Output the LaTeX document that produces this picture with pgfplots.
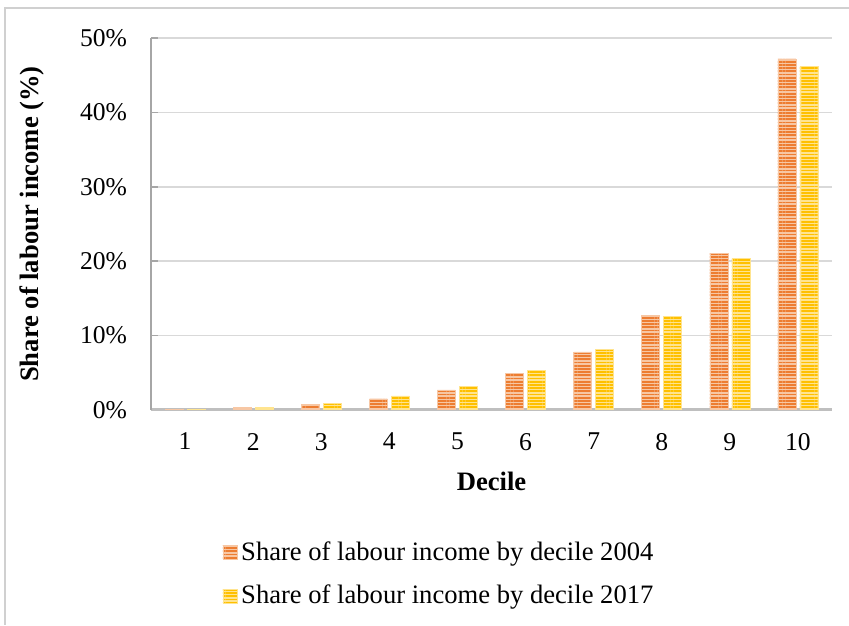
\documentclass[border=0pt]{standalone}
\usepackage{pgfplots}
\pgfplotsset{compat=1.18}
\usepackage{fontspec}
\setmainfont{Liberation Serif}
\usetikzlibrary{patterns.meta}
\definecolor{orgdark}{HTML}{ED7D31}
\definecolor{orglight}{HTML}{F7C7A4}
\definecolor{yeldark}{HTML}{FFC000}
\definecolor{yellight}{HTML}{FFE48F}
\definecolor{gridc}{HTML}{D9D9D9}
\definecolor{axc}{HTML}{BFBFBF}
\definecolor{yaxc}{HTML}{A6A6A6}
\definecolor{framec}{HTML}{D0D0D0}
\begin{document}
\begin{tikzpicture}
\useasboundingbox (0,0) rectangle (424.5pt,312.5pt);
\draw[framec, line width=0.6pt] (2.5pt,0) -- (2.5pt,308.5pt) -- (424.5pt,308.5pt);
\begin{axis}[
  at={(75.5pt,107.5pt)}, anchor=south west,
  scale only axis, width=340.5pt, height=186pt,
  ybar=2pt, bar width=9pt,
  xmin=0.5, xmax=10.5, ymin=0, ymax=50,
  xtick={1,...,10}, ytick={0,10,...,50},
  axis x line*=bottom, axis y line*=left,
  x axis line style={axc, line width=1.5pt},
  y axis line style={yaxc, line width=0.8pt},
  xtick style={draw=none},
  ytick style={yaxc, line width=0.8pt},
  tick align=inside, major tick length=3.5pt,
  ymajorgrids, grid style={gridc, line width=0.75pt},
  /pgf/number format/assume math mode=true,
  tick label style={font=\fontsize{12.8}{15}\selectfont},
  yticklabel={\pgfmathprintnumber{\tick}\%},
  yticklabel style={xshift=-8.5pt},
  xticklabel style={yshift=-8pt},
  label style={font=\fontsize{13.3}{16}\selectfont\bfseries},
  xlabel={Decile},
  ylabel={Share of labour income (\%)},
  xlabel style={at={(axis description cs:0.5,-0.1909)}, anchor=center},
  ylabel style={at={(axis description cs:-0.1747,0.5)}, anchor=center, rotate=0},
  legend style={at={(axis description cs:0.4244,-0.4409)}, anchor=center, draw=none, fill=none,
    font=\fontsize{13.3}{16}\selectfont, row sep=7pt, cells={anchor=west}},
  legend cell align=left,
  legend image code/.code={\draw[#1, draw=none] (0pt,-3.5pt) rectangle (7pt,3.5pt);},
]
\addplot[fill=orglight, draw=orglight, line width=0.3pt,
  postaction={pattern={Lines[angle=0,distance=1.6pt,line width=0.9pt]}, pattern color=orgdark}]
  coordinates {(1,0.05)(2,0.3)(3,0.8)(4,1.5)(5,2.7)(6,4.9)(7,7.8)(8,12.7)(9,21.1)(10,47.2)};
\addlegendentry{Share of labour income by decile 2004}
\addplot[fill=yellight, draw=yellight, line width=0.3pt,
  postaction={pattern={Lines[angle=0,distance=1.6pt,line width=0.9pt]}, pattern color=yeldark}]
  coordinates {(1,0.05)(2,0.3)(3,0.9)(4,1.9)(5,3.2)(6,5.3)(7,8.1)(8,12.6)(9,20.4)(10,46.2)};
\addlegendentry{Share of labour income by decile 2017}
\end{axis}
\end{tikzpicture}
\end{document}
